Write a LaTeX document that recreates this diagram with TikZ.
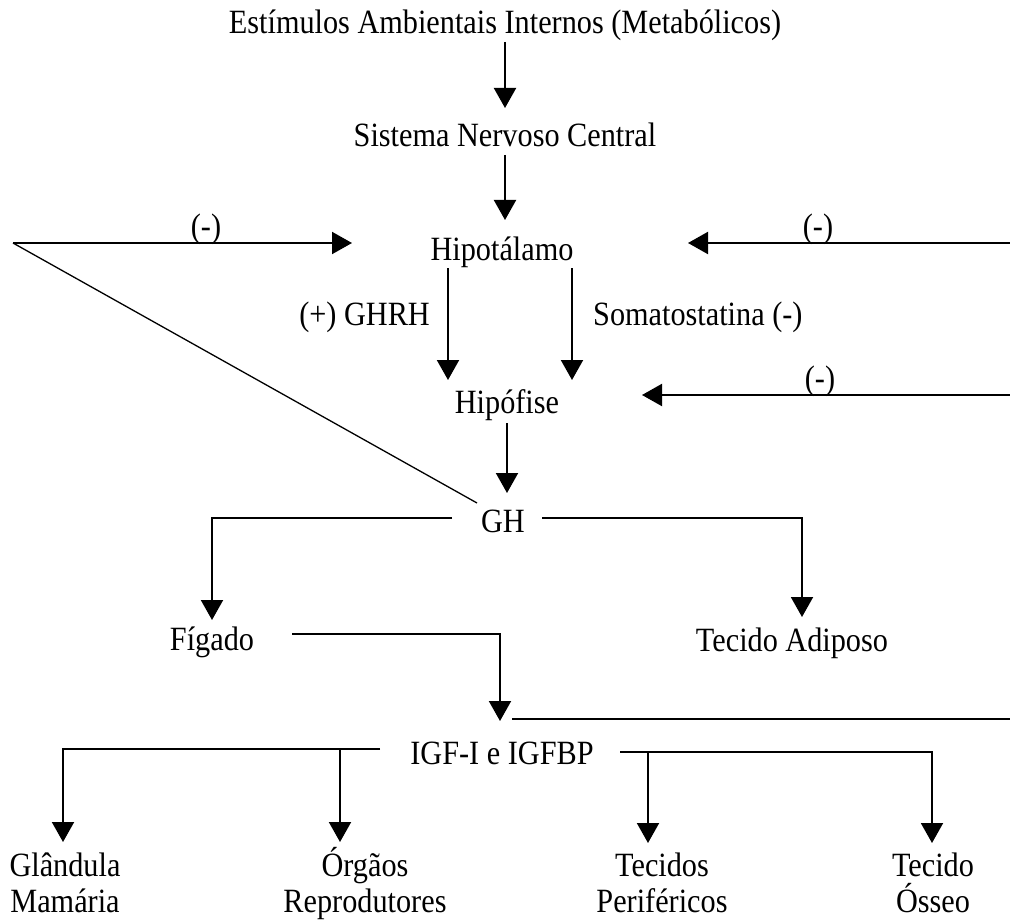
\documentclass[tikz,border=0pt]{standalone}
\usepackage{fontspec}
\setmainfont{Liberation Serif}[FakeStretch=0.89]
\usetikzlibrary{arrows.meta}
\begin{document}
\begin{tikzpicture}[x=1pt,y=-1pt,
  lbl/.style={font=\fontsize{34}{36}\selectfont, inner sep=0pt, anchor=base},
  conn/.style={line width=2pt, -{Triangle[length=20pt,width=22pt]}},
  plainln/.style={line width=2pt},
  thinln/.style={line width=1.3pt}]
\useasboundingbox (0,0) rectangle (1010,923);

% text nodes
\node[lbl] (est) at (505,34) {Estímulos Ambientais Internos (Metabólicos)};
\node[lbl] (snc) at (505,147) {Sistema Nervoso Central};
\node[lbl] (hip) at (502,260) {Hipotálamo};
\node[lbl, anchor=base east] (ghrh) at (430,325) {(+) GHRH};
\node[lbl, anchor=base west] (som) at (593,325) {Somatostatina (-)};
\node[lbl] (hipo) at (507,413) {Hipófise};
\node[lbl] (gh) at (503,532) {GH};
\node[lbl] (fig) at (212,650) {Fígado};
\node[lbl] (adi) at (792,651) {Tecido Adiposo};
\node[lbl] (igf) at (502,764) {IGF-I e IGFBP};
\node[lbl] (neg1) at (206,237) {(-)};
\node[lbl] (neg2) at (818,237) {(-)};
\node[lbl] (neg3) at (820,389) {(-)};
\node[lbl, align=center] (gm) at (65,912) {Glândula\\Mamária};
\node[lbl, align=center] (or) at (365,912) {Órgãos\\Reprodutores};
\node[lbl, align=center] (tp) at (662,912) {Tecidos\\Periféricos};
\node[lbl, align=center] (to) at (933,912) {Tecido\\Ósseo};

% coordinates
\coordinate (a1s) at (505,42);   \coordinate (a1e) at (505,108);
\coordinate (a2s) at (505,155);  \coordinate (a2e) at (505,220);
\coordinate (lo) at (13,243);    \coordinate (le) at (352,243);
\coordinate (dg) at (477,503);
\coordinate (r1s) at (1010,243); \coordinate (r1e) at (688,243);
\coordinate (hls) at (448,268);  \coordinate (hle) at (448,380);
\coordinate (hrs) at (572,268);  \coordinate (hre) at (572,380);
\coordinate (r2s) at (1010,395); \coordinate (r2e) at (642,395);
\coordinate (a3s) at (507,423);  \coordinate (a3e) at (507,493);
\coordinate (gls) at (452,518);  \coordinate (gle) at (212,620);
\coordinate (grs) at (542,518);  \coordinate (gre) at (802,617);
\coordinate (fs) at (292,634);   \coordinate (fe) at (500,721);
\coordinate (ms) at (512,719);   \coordinate (me) at (1010,719);
\coordinate (ils) at (380,749);  \coordinate (ile) at (63,842);
\coordinate (ib) at (340,749);   \coordinate (ibe) at (340,842);
\coordinate (irs) at (620,752);  \coordinate (ire) at (932,843);
\coordinate (ic) at (648,752);   \coordinate (ice) at (648,843);

% connectors
\draw[conn] (a1s) -- (a1e);
\draw[conn] (a2s) -- (a2e);
\draw[conn] (lo) -- (le);
\draw[thinln] (lo) -- (dg);
\draw[conn] (r1s) -- (r1e);
\draw[conn] (hls) -- (hle);
\draw[conn] (hrs) -- (hre);
\draw[conn] (r2s) -- (r2e);
\draw[conn] (a3s) -- (a3e);
\draw[conn] (gls) -| (gle);
\draw[conn] (grs) -| (gre);
\draw[conn] (fs) -| (fe);
\draw[plainln] (ms) -- (me);
\draw[conn] (ils) -| (ile);
\draw[conn] (ib) -- (ibe);
\draw[conn] (irs) -| (ire);
\draw[conn] (ic) -- (ice);
\end{tikzpicture}
\end{document}
